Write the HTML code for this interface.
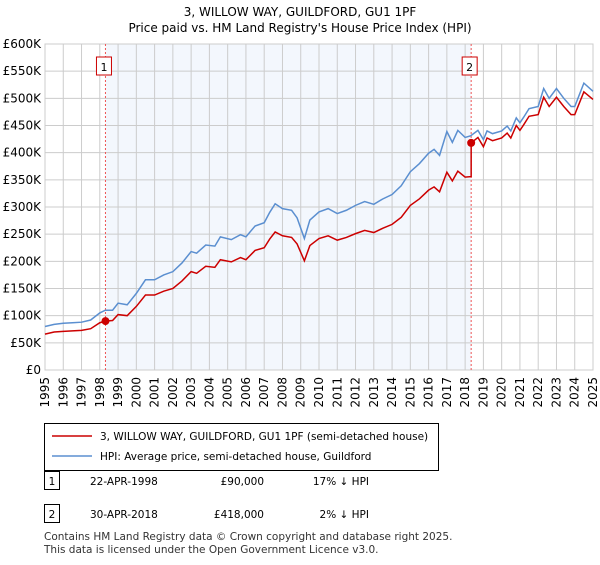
<!DOCTYPE html>
<html><head><meta charset="utf-8"><style>
body{margin:0;background:#fff;font-family:"Liberation Sans","DejaVu Sans",sans-serif;}
svg text{font-family:"DejaVu Sans","Liberation Sans",sans-serif;}
</style></head><body>
<svg width="600" height="560" viewBox="0 0 600 560">
<g id="chart"></g>
</svg>
<script>
const hpiDates=[1995,1995.5,1996,1996.5,1997,1997.5,1998,1998.3,1998.7,1999,1999.5,2000,2000.5,2001,2001.5,2002,2002.5,2003,2003.3,2003.8,2004.3,2004.6,2005.2,2005.7,2006,2006.5,2007,2007.3,2007.6,2008,2008.5,2008.8,2009.2,2009.5,2010,2010.5,2011,2011.5,2012,2012.5,2013,2013.5,2014,2014.5,2015,2015.5,2016,2016.3,2016.6,2017,2017.3,2017.6,2018,2018.3,2018.7,2019,2019.2,2019.5,2020,2020.3,2020.5,2020.8,2021,2021.2,2021.5,2022,2022.3,2022.6,2023,2023.4,2023.8,2024,2024.5,2025];
const hpiValues=[80,84,86,87,88,92,105,110,110,123,120,141,166,166,175,181,197,218,215,230,228,245,240,249,245,265,271,290,306,297,294,280,242,276,291,297,288,294,303,310,305,315,323,339,365,380,399,406,395,439,419,441,428,431,441,424,440,435,440,449,440,464,455,465,481,485,518,500,518,500,485,485,528,513];
const priceDates=[1995,1995.5,1996,1996.5,1997,1997.5,1998,1998.3,1998.7,1999,1999.5,2000,2000.5,2001,2001.5,2002,2002.5,2003,2003.3,2003.8,2004.3,2004.6,2005.2,2005.7,2006,2006.5,2007,2007.3,2007.6,2008,2008.5,2008.8,2009.2,2009.5,2010,2010.5,2011,2011.5,2012,2012.5,2013,2013.5,2014,2014.5,2015,2015.5,2016,2016.3,2016.6,2017,2017.3,2017.6,2018,2018.33,2018.33,2018.7,2019,2019.2,2019.5,2020,2020.3,2020.5,2020.8,2021,2021.2,2021.5,2022,2022.3,2022.6,2023,2023.4,2023.8,2024,2024.5,2025];
const priceValues=[66,70,71,72,73,76,87,90,91,102,100,117,138,138,145,150,164,181,178,191,189,203,199,207,203,220,225,241,254,247,244,232,201,229,242,247,239,244,251,257,253,261,268,281,303,315,331,337,328,364,348,366,355,356,418,428,411,427,422,427,436,427,450,441,451,467,470,502,485,502,485,470,470,512,498];
const saleDates=[1998.31,2018.33];
const saleValues=[90,418];
const saleLabels=["1","2"];
const yTicks=[0,50,100,150,200,250,300,350,400,450,500,550,600];
const yTickLabels=["£0","£50K","£100K","£150K","£200K","£250K","£300K","£350K","£400K","£450K","£500K","£550K","£600K"];
const xTicks=[1995,1996,1997,1998,1999,2000,2001,2002,2003,2004,2005,2006,2007,2008,2009,2010,2011,2012,2013,2014,2015,2016,2017,2018,2019,2020,2021,2022,2023,2024,2025];

const X0=45,X1=593,Y0=370,Y1=44;
const xs=d=>X0+(d-1995)/(2025-1995)*(X1-X0);
const ys=v=>Y0-v/600*(Y0-Y1);
const NS="http://www.w3.org/2000/svg";
const g=document.getElementById('chart');
function mk(tag,attrs,parent){const e=document.createElementNS(NS,tag);for(const k in attrs)e.setAttribute(k,attrs[k]);(parent||g).appendChild(e);return e;}
function txt(s,attrs){const e=mk('text',attrs);e.textContent=s;return e;}

let e;
e=txt("3, WILLOW WAY, GUILDFORD, GU1 1PF",{x:300,y:16,'text-anchor':'middle','font-size':12,fill:'#000'});


e=txt("Price paid vs. HM Land Registry's House Price Index (HPI)",{x:300,y:32,'text-anchor':'middle','font-size':12,fill:'#000'});



e=mk('rect',{x:xs(saleDates[0]),y:Y1,width:xs(saleDates[1])-xs(saleDates[0]),height:Y0-Y1,fill:'#eef3fc',opacity:0.7});



for(let i=0;i<yTicks.length;i++){
 e=mk('line',{x1:X0,x2:X1,y1:ys(yTicks[i]),y2:ys(yTicks[i]),stroke:'#cccccc','stroke-width':1});
 
 
 e=txt(yTickLabels[i],{x:X0-4,y:ys(yTicks[i])+4,'text-anchor':'end','font-size':12,fill:'#000'});
 
 
}
for(const t of xTicks){
 e=mk('line',{x1:xs(t),x2:xs(t),y1:Y1,y2:Y0,stroke:'#cccccc','stroke-width':1});
 
 
 e=txt(String(t),{x:0,y:0,'text-anchor':'end','font-size':12,fill:'#000',transform:`translate(${xs(t)+4},${Y0+7}) rotate(-90)`});
 
 
}
e=mk('rect',{x:X0,y:Y1,width:X1-X0,height:Y0-Y1,fill:'none',stroke:'#cccccc'});



for(let i=0;i<saleDates.length;i++){
 const x=xs(saleDates[i]);
 e=mk('line',{x1:x,x2:x,y1:Y1,y2:Y0,stroke:'#ee5555','stroke-width':1,'stroke-dasharray':'2,2'});
 
 
 e=mk('rect',{x:x-9,y:57,width:15,height:18,fill:'#fff',stroke:'#cc0000'});
 
 
 e=txt(saleLabels[i],{x:x-1.5,y:71,'text-anchor':'middle','font-size':11,fill:'#000'});
 
 
}

e=mk('polyline',{points:hpiDates.map((d,i)=>xs(d)+','+ys(hpiValues[i])).join(' '),fill:'none',stroke:'#5b8fd0','stroke-width':1.5});


e=mk('polyline',{points:priceDates.map((d,i)=>xs(d)+','+ys(priceValues[i])).join(' '),fill:'none',stroke:'#cc0000','stroke-width':1.5});


for(let i=0;i<saleDates.length;i++){
 e=mk('circle',{cx:xs(saleDates[i]),cy:ys(saleValues[i]),r:4,fill:'#cc0000'});
 
 
}

// legend
e=mk('rect',{x:44.5,y:423.5,width:394,height:47,fill:'#fff',stroke:'#000'});


e=mk('line',{x1:52,x2:92,y1:436,y2:436,stroke:'#cc0000','stroke-width':1.5});


e=txt("3, WILLOW WAY, GUILDFORD, GU1 1PF (semi-detached house)",{x:100,y:440,'font-size':10.5,fill:'#000'});


e=mk('line',{x1:52,x2:92,y1:456,y2:456,stroke:'#5b8fd0','stroke-width':1.5});


e=txt("HPI: Average price, semi-detached house, Guildford",{x:100,y:460,'font-size':10.5,fill:'#000'});



// table
const rows=[["1","22-APR-1998","£90,000","17% ↓ HPI",481],["2","30-APR-2018","£418,000","2% ↓ HPI",514]];
for(const r of rows){
 e=mk('rect',{x:44.5,y:r[4]-9.5,width:15,height:18,fill:'#fff',stroke:'#000'});
 
 
 e=txt(r[0],{x:52,y:r[4]+4,'text-anchor':'middle','font-size':10.5,fill:'#000'});
 
 
 e=txt(r[1],{x:90,y:r[4]+4,'font-size':10.5,fill:'#000'});
 
 
 e=txt(r[2],{x:264,y:r[4]+4,'text-anchor':'end','font-size':10.5,fill:'#000'});
 
 
 e=txt(r[3],{x:369,y:r[4]+4,'text-anchor':'end','font-size':10.5,fill:'#000'});
 
 
}
e=txt("Contains HM Land Registry data © Crown copyright and database right 2025.",{x:44,y:540,'font-size':10.5,fill:'#333'});


e=txt("This data is licensed under the Open Government Licence v3.0.",{x:44,y:553,'font-size':10.5,fill:'#333'});


</script>
</body></html>
